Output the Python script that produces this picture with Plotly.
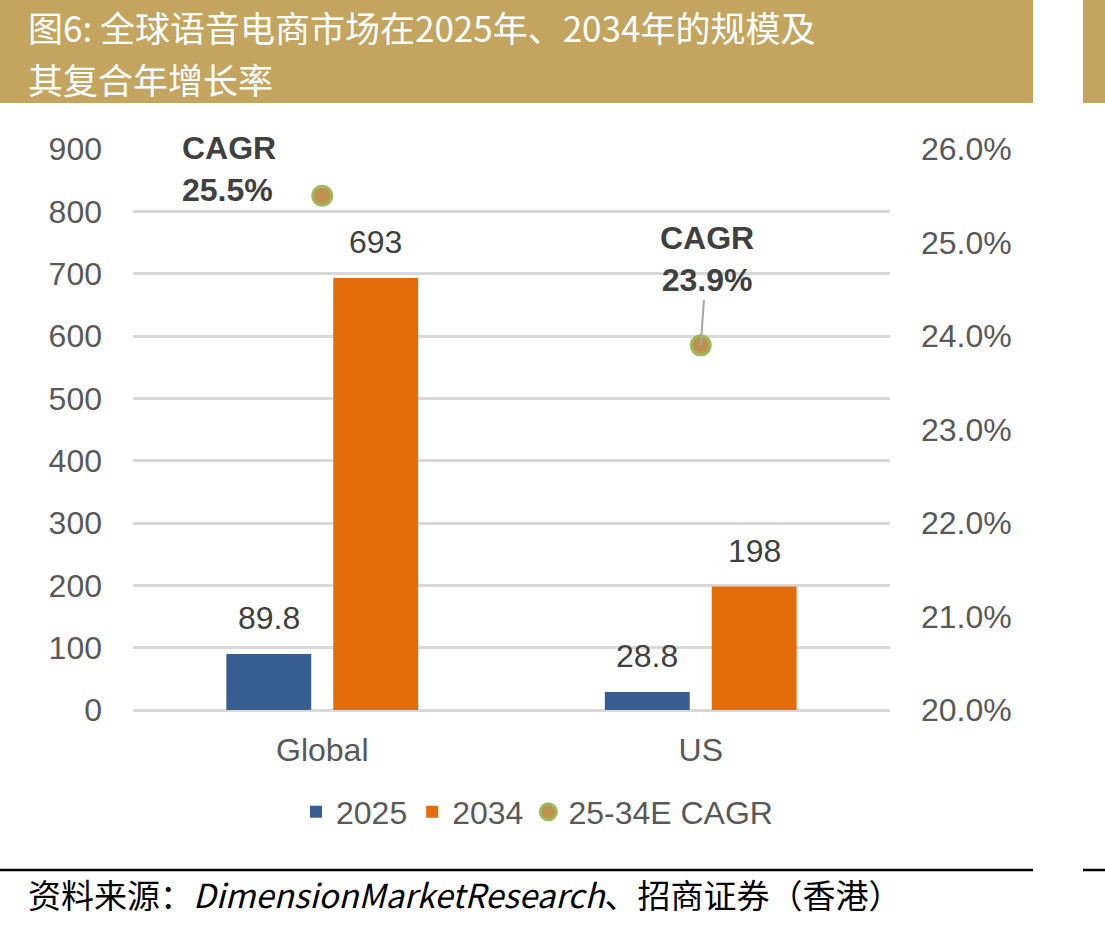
import plotly.graph_objects as go

# ---------------- data ----------------
categories = ["Global", "US"]
values_2025 = [89.8, 28.8]
values_2034 = [693, 198]
cagr = [0.255, 0.239]
labels_2025 = ["89.8", "28.8"]
labels_2034 = ["693", "198"]
cagr_labels = ["<b>CAGR<br>25.5%</b>", "<b>CAGR<br>23.9%</b>"]
series_names = ["2025", "2034", "25-34E CAGR"]
title_line1 = "图6: 全球语音电商市场在2025年、2034年的规模及"
title_line2 = "其复合年增长率"
source_text = "资料来源：<i>DimensionMarketResearch</i>、招商证券（香港）"

# ---------------- layout constants ----------------
W, H = 1105, 927
L, R, T, B = 133, 890, 149, 710   # plot area in pixels


def px(x):
    return (x - L) / (R - L)


def py(y):
    return (B - y) / (B - T)


BLUE = "#375E91"
ORANGE = "#E46C0A"
GOLD = "#C4A560"
TXT = "#595959"
DARK = "#404040"
FONT = "Liberation Sans, Arial, Noto Sans CJK SC"
CJK = "Noto Sans CJK SC, Liberation Sans"

fig = go.Figure()
fig.add_trace(go.Bar(x=categories, y=values_2025, name=series_names[0],
                     marker=dict(color=BLUE, line=dict(width=0)), yaxis="y"))
fig.add_trace(go.Bar(x=categories, y=values_2034, name=series_names[1],
                     marker=dict(color=ORANGE, line=dict(width=0)), yaxis="y"))
fig.add_trace(go.Scatter(x=categories, y=cagr, name=series_names[2], mode="markers",
                         marker=dict(size=19, color="#BF9050",
                                     line=dict(color="#9BBB59", width=3)),
                         yaxis="y2", cliponaxis=False))

annotations = []
# bar value labels
for cat, v, t in zip(categories, values_2025, labels_2025):
    annotations.append(dict(x=cat, y=v, xref="x", yref="y", text=t, showarrow=False,
                            xshift=-53.5, yshift=36, font=dict(size=32, color=DARK, family=FONT)))
for cat, v, t in zip(categories, values_2034, labels_2034):
    annotations.append(dict(x=cat, y=v, xref="x", yref="y", text=t, showarrow=False,
                            xshift=53.5, yshift=36, font=dict(size=32, color=DARK, family=FONT)))

# CAGR labels
annotations.append(dict(x=categories[0], y=cagr[0], xref="x", yref="y2", text=cagr_labels[0],
                        showarrow=False, xanchor="left", align="left", xshift=-142, yshift=27,
                        font=dict(size=32, color=DARK, family=FONT)))
annotations.append(dict(x=categories[1], y=cagr[1], xref="x", yref="y2", text=cagr_labels[1],
                        showarrow=True, arrowhead=0, arrowwidth=2, arrowcolor="#A6A6A6",
                        ax=6, ay=-86, align="center",
                        font=dict(size=32, color=DARK, family=FONT)))

# title (two lines)
annotations.append(dict(x=px(26), y=py(26), xref="paper", yref="paper", text=title_line1,
                        showarrow=False, xanchor="left", yanchor="middle",
                        font=dict(size=35, color="white", family=CJK)))
annotations.append(dict(x=px(26), y=py(78), xref="paper", yref="paper", text=title_line2,
                        showarrow=False, xanchor="left", yanchor="middle",
                        font=dict(size=35, color="white", family=CJK)))
# source
annotations.append(dict(x=px(26), y=py(894), xref="paper", yref="paper", text=source_text,
                        showarrow=False, xanchor="left", yanchor="middle",
                        font=dict(size=33, color="black", family=CJK)))

shapes = [
    dict(type="rect", xref="paper", yref="paper", x0=px(0), x1=px(1033), y0=py(0), y1=py(103),
         fillcolor=GOLD, line=dict(width=0), layer="below"),
    dict(type="rect", xref="paper", yref="paper", x0=px(1083), x1=px(1105), y0=py(0), y1=py(103),
         fillcolor=GOLD, line=dict(width=0), layer="below"),
    dict(type="line", xref="paper", yref="paper", x0=px(0), x1=px(1033), y0=py(870), y1=py(870),
         line=dict(color="black", width=2.5)),
    dict(type="line", xref="paper", yref="paper", x0=px(1083), x1=px(1105), y0=py(870), y1=py(870),
         line=dict(color="black", width=2.5)),
]

fig.update_layout(
    width=W, height=H,
    margin=dict(l=L, r=W - R, t=T, b=H - B, pad=0),
    paper_bgcolor="white", plot_bgcolor="white",
    barmode="group", bargap=0.435, bargroupgap=0.206,
    font=dict(family=FONT, color=TXT, size=32),
    showlegend=True,
    legend=dict(orientation="h", x=px(537), xanchor="center", y=py(812), yanchor="middle",
                font=dict(size=32, color=TXT, family=FONT), bgcolor="rgba(0,0,0,0)",
                itemwidth=30, tracegroupgap=0),
    xaxis=dict(showgrid=False, showline=False, ticks="", tickfont=dict(size=32, color=TXT),
               ticklabelstandoff=18),
    yaxis=dict(range=[0, 900], dtick=100, showgrid=True, gridcolor="#D9D9D9", gridwidth=3,
               zeroline=True, zerolinecolor="#D9D9D9", zerolinewidth=3, showline=False,
               ticks="", tickfont=dict(size=32, color=TXT), ticklabelstandoff=30),
    yaxis2=dict(range=[0.20, 0.26], dtick=0.01, tickformat=".1%", overlaying="y", side="right",
                showgrid=False, zeroline=False, showline=False, ticks="",
                tickfont=dict(size=32, color=TXT), ticklabelstandoff=30),
    annotations=annotations,
    shapes=shapes,
)

fig.write_html("out.html")
